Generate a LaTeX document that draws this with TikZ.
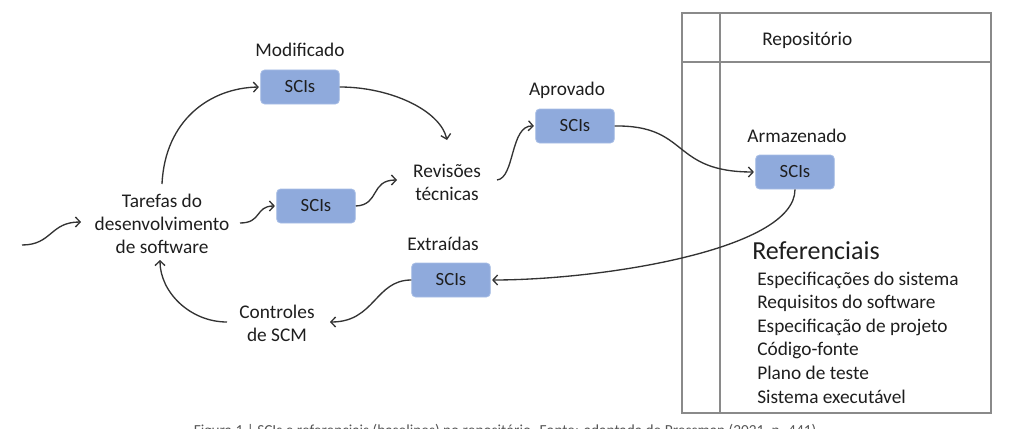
\documentclass[tikz,border=0pt]{standalone}
\usepackage{fontspec}
\setmainfont{Carlito}
\usetikzlibrary{arrows.meta}
\definecolor{scibox}{HTML}{8FAADC}
\definecolor{sciedge}{HTML}{A7BDE5}
\definecolor{txt}{HTML}{1E1E1E}
\definecolor{lin}{HTML}{333333}
\definecolor{frm}{HTML}{8A8A8A}
\definecolor{captxt}{HTML}{555555}
\begin{document}
\begin{tikzpicture}[x=0.75pt,y=-0.75pt,
  sci/.style={draw=sciedge, line width=0.6pt, fill=scibox, rounded corners=3pt,
    minimum width=59pt, minimum height=25.5pt, inner sep=0pt,
    font=\fontsize{14}{17}\selectfont, text=txt},
  lbl/.style={font=\fontsize{14.5}{17.3}\selectfont, align=center, inner sep=0pt, text=txt},
  conn/.style={draw=lin, line width=1pt, -{Straight Barb[length=3.5pt,width=7.5pt]}},
  frame/.style={draw=frm, line width=1.1pt},
]
\useasboundingbox (0,0) rectangle (1020,428);
\clip (0,0) rectangle (1020,428);

% repository frame
\draw[frame] (682,13) rectangle (991,413);
\draw[frame] (720,13) -- (720,413);
\draw[frame] (682,62) -- (991,62);
\node[lbl, anchor=base west] (repo) at (762,46) {Repositório};
\node[anchor=base west, inner sep=0pt, font=\fontsize{19.5}{23}\selectfont, text=txt] (ref) at (752,259) {Referenciais};
\foreach \t [count=\i] in {Especificações do sistema, Requisitos do software, Especificação de projeto, Código-fonte, Plano de teste, Sistema executável}{
  \node[lbl, anchor=base west] (ref\i) at (757,{285+23.6*(\i-1)}) {\t};
}

% labels
\node[lbl, anchor=base] (mod) at (300,57) {Modificado};
\node[lbl, anchor=base] (apr) at (567,95) {Aprovado};
\node[lbl, anchor=base] (arm) at (797,142) {Armazenado};
\node[lbl, anchor=base] (ext) at (443,250) {Extraídas};
\node[lbl] (rev) at (447,182) {Revisões\\técnicas};
\node[lbl] (tar) at (162,224) {Tarefas do\\desenvolvimento\\de software};
\node[lbl] (ctl) at (277,323) {Controles\\de SCM};

% SCI boxes
\node[sci] (s1) at (300,87) {SCIs};
\node[sci] (s2) at (316,206) {SCIs};
\node[sci] (s3) at (451,280) {SCIs};
\node[sci] (s4) at (575,126) {SCIs};
\node[sci] (s5) at (795,172) {SCIs};

% connectors
\coordinate (inS) at (22,245);
\coordinate (inE) at (81,222);
\draw[conn] (inS) .. controls (52,245) and (50,222) .. (inE);
\draw[conn] (162,184) .. controls (165,120) and (210,88) .. ([xshift=-1pt]s1.west);
\draw[conn] (s1.east) .. controls (390,87) and (440,110) .. (447,140);
\draw[conn] (240,223) .. controls (262,223) and (255,206) .. ([xshift=-1pt]s2.west);
\draw[conn] (s2.east) .. controls (380,205) and (370,180) .. (397,180);
\draw[conn] (497,180) .. controls (515,178) and (510,125) .. ([xshift=-1pt]s4.west);
\draw[conn] (s4.east) .. controls (690,125) and (670,172) .. ([xshift=-1pt]s5.west);
\draw[conn] (s5.south) .. controls (795,250) and (600,280) .. ([xshift=1pt]s3.east);
\draw[conn] (s3.west) .. controls (375,280) and (375,322) .. (330,322);
\draw[conn] (227,322) .. controls (190,322) and (160,292) .. (160,260);

% caption (cut off at the bottom edge, as in the reference)
\node[anchor=north, inner sep=0pt, font=\fontsize{11.5}{14}\selectfont, text=captxt] (cap) at (507,424)
  {Figura 1 | SCIs e referenciais (baselines) no repositório. Fonte: adaptada de Pressman (2021, p. 441).};
\end{tikzpicture}
\end{document}
